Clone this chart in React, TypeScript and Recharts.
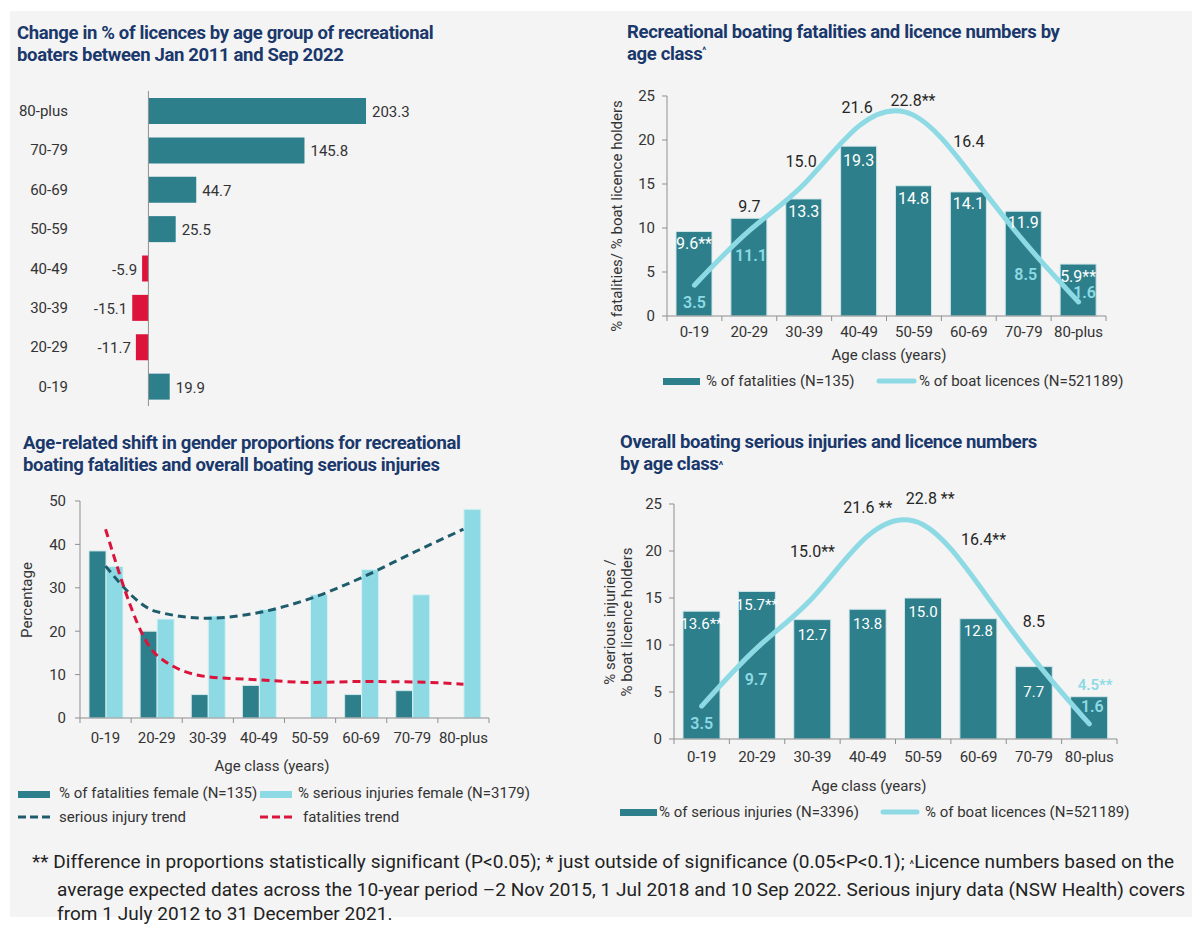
import React from "react";
import {
  Bar,
  BarChart,
  Cell,
  ComposedChart,
  LabelList,
  Line,
  ReferenceLine,
  XAxis,
  YAxis,
} from "recharts";

const AGE_CLASSES = ["0-19", "20-29", "30-39", "40-49", "50-59", "60-69", "70-79", "80-plus"];

// change in % of licences, Jan 2011 -> Sep 2022
const LICENCE_CHANGE = [19.9, -11.7, -15.1, -5.9, 25.5, 44.7, 145.8, 203.3];

// fatalities vs licences
const FATALITY_SHARE = [9.6, 11.1, 13.3, 19.3, 14.8, 14.1, 11.9, 5.9];
const FATALITY_SIG = ["**", "", "", "", "", "", "", "**"];
const LICENCE_SHARE = [3.5, 9.7, 15.0, 21.6, 22.8, 16.4, 8.5, 1.6];
const LICENCE_SIG_VS_FATAL = ["", "", "", "", "**", "", "", ""];

// female share by age
const FEMALE_FATALITY = [38.5, 20.0, 5.4, 7.5, null, 5.4, 6.3, null];
const FEMALE_INJURY = [34.9, 22.8, 23.5, 25.0, 28.4, 34.2, 28.4, 48.1];
const INJURY_TREND = [35.0, 24.5, 23.0, 24.3, 27.5, 32.3, 38.0, 43.5];
const FATALITY_TREND = [43.5, 14.5, 9.5, 8.8, 8.2, 8.4, 8.3, 7.8];

// serious injuries vs licences
const INJURY_SHARE = [13.6, 15.7, 12.7, 13.8, 15.0, 12.8, 7.7, 4.5];
const INJURY_SIG = ["**", "**", "", "", "", "", "", "**"];
const LICENCE_SIG_VS_INJURY = ["", "", "**", " **", " **", "**", "", ""];

const FONT = "Roboto, sans-serif";
const BG = "#f4f4f4";
const NAVY = "#1a386b";
const TEAL = "#2e7f8c";
const CYAN = "#8ddae4";
const RED = "#dc143c";
const DARK = "#1f5c6b";
const AXIS = "#8f8f8f";
const INK = "#333333";
const WHITE = "#ffffff";
const BLACK = "#262626";

// where each value label sits, relative to bar top centre / line point
type Tag = { dx: number; dy: number; color: string; bold?: boolean };

const FATAL_BAR_TAGS: Tag[] = [
  { dx: 0, dy: 12, color: WHITE },
  { dx: 2, dy: 37, color: CYAN, bold: true },
  { dx: 0, dy: 13, color: WHITE },
  { dx: 0, dy: 14, color: WHITE },
  { dx: 0, dy: 13, color: WHITE },
  { dx: 0, dy: 12, color: WHITE },
  { dx: 0, dy: 11, color: WHITE },
  { dx: 0, dy: 12, color: WHITE },
];
const FATAL_LINE_TAGS: Tag[] = [
  { dx: 0, dy: 17, color: CYAN, bold: true },
  { dx: 0, dy: -24, color: BLACK },
  { dx: -3, dy: -23, color: BLACK },
  { dx: -2, dy: -18, color: BLACK },
  { dx: -1, dy: -15, color: BLACK },
  { dx: 0, dy: -30, color: BLACK },
  { dx: 2, dy: 33, color: CYAN, bold: true },
  { dx: 6, dy: -9, color: CYAN, bold: true },
];
const INJURY_BAR_TAGS: Tag[] = [
  { dx: 0, dy: 13, color: WHITE },
  { dx: 0, dy: 14, color: WHITE },
  { dx: 0, dy: 15, color: WHITE },
  { dx: 0, dy: 15, color: WHITE },
  { dx: 0, dy: 14, color: WHITE },
  { dx: 0, dy: 12, color: WHITE },
  { dx: 0, dy: 25, color: WHITE },
  { dx: 6, dy: -12, color: CYAN, bold: true },
];
const INJURY_LINE_TAGS: Tag[] = [
  { dx: 0, dy: 17, color: CYAN, bold: true },
  { dx: -1, dy: 32, color: CYAN, bold: true },
  { dx: 0, dy: -47, color: BLACK },
  { dx: 0, dy: -28, color: BLACK },
  { dx: 7, dy: -26, color: BLACK },
  { dx: 5, dy: -45, color: BLACK },
  { dx: 0, dy: -38, color: BLACK },
  { dx: 3, dy: -17, color: CYAN, bold: true },
];

const changeData = AGE_CLASSES.map((age, i) => ({ age, change: LICENCE_CHANGE[i] }));
const fatalData = AGE_CLASSES.map((age, i) => ({
  age,
  fatal: FATALITY_SHARE[i],
  licence: LICENCE_SHARE[i],
}));
const genderData = AGE_CLASSES.map((age, i) => ({
  age,
  femaleFatal: FEMALE_FATALITY[i],
  femaleInjury: FEMALE_INJURY[i],
  injuryTrend: INJURY_TREND[i],
  fatalTrend: FATALITY_TREND[i],
}));
const injuryData = AGE_CLASSES.map((age, i) => ({
  age,
  injury: INJURY_SHARE[i],
  licence: LICENCE_SHARE[i],
}));

function box(p: any) {
  const vb = p.viewBox ?? {};
  return {
    x: vb.x ?? p.x ?? 0,
    y: vb.y ?? p.y ?? 0,
    w: vb.width ?? p.width ?? 0,
    h: vb.height ?? p.height ?? 0,
  };
}

function tagRenderer(values: number[], sig: string[], tags: Tag[], size: number) {
  return (p: any) => {
    const i = typeof p.index === "number" ? p.index : values.indexOf(Number(p.value));
    const t = tags[i];
    if (!t) return null;
    const b = box(p);
    return (
      <text
        x={b.x + b.w / 2 + t.dx}
        y={b.y + t.dy}
        textAnchor="middle"
        dominantBaseline="central"
        fill={t.color}
        fontSize={size}
        fontWeight={t.bold ? 600 : 400}
        fontFamily={FONT}
      >
        {values[i].toFixed(1) + sig[i]}
      </text>
    );
  };
}

function changeLabel(p: any) {
  const b = box(p);
  const v = Number(p.value);
  const left = Math.min(b.x, b.x + b.w);
  const right = Math.max(b.x, b.x + b.w);
  return (
    <text
      x={v >= 0 ? right + 6 : left - 5}
      y={b.y + b.h / 2 + 1}
      textAnchor={v >= 0 ? "start" : "end"}
      dominantBaseline="central"
      fill={INK}
      fontSize={15}
      fontFamily={FONT}
    >
      {v.toFixed(1)}
    </text>
  );
}

// category label centred in its band, tick marks on the band edges
function AgeTick(props: any) {
  const { x, y, payload, index, band, dy } = props;
  const half = band / 2;
  return (
    <g>
      <line x1={x - half} x2={x - half} y1={y} y2={y + 5} stroke={AXIS} />
      {index === AGE_CLASSES.length - 1 && (
        <line x1={x + half} x2={x + half} y1={y} y2={y + 5} stroke={AXIS} />
      )}
      <text
        x={x}
        y={y + dy}
        textAnchor="middle"
        dominantBaseline="central"
        fill={INK}
        fontSize={15}
        fontFamily={FONT}
      >
        {payload.value}
      </text>
    </g>
  );
}

const abs = (left: number, top: number): React.CSSProperties => ({
  position: "absolute",
  left,
  top,
});

function Title({ left, top, children }: { left: number; top: number; children: React.ReactNode }) {
  return (
    <div
      style={{
        ...abs(left, top),
        color: NAVY,
        fontWeight: 700,
        fontSize: 18.5,
        lineHeight: "22px",
        letterSpacing: -0.35,
        whiteSpace: "nowrap",
      }}
    >
      {children}
    </div>
  );
}

function VLabel({ cx, cy, children }: { cx: number; cy: number; children: React.ReactNode }) {
  return (
    <div
      style={{
        ...abs(cx, cy),
        transform: "translate(-50%, -50%) rotate(-90deg)",
        whiteSpace: "nowrap",
        textAlign: "center",
        fontSize: 15,
        lineHeight: "17px",
        color: INK,
      }}
    >
      {children}
    </div>
  );
}

function Text({ left, top, children, center }: { left: number; top: number; children: React.ReactNode; center?: boolean }) {
  return (
    <div
      style={{
        ...abs(left, top),
        transform: center ? "translate(-50%, -50%)" : "translateY(-50%)",
        whiteSpace: "nowrap",
        fontSize: 15,
        lineHeight: "18px",
        color: INK,
      }}
    >
      {children}
    </div>
  );
}

function Swatch({
  left,
  top,
  kind,
  color,
  width = 36,
}: {
  left: number;
  top: number;
  kind: "rect" | "line" | "dash";
  color: string;
  width?: number;
}) {
  return (
    <svg style={{ ...abs(left, top - 6) }} width={width + 4} height={12}>
      {kind === "rect" && <rect x={0} y={3} width={width} height={7} fill={color} />}
      {kind === "line" && (
        <line x1={3} x2={width - 1} y1={6} y2={6} stroke={color} strokeWidth={5} strokeLinecap="round" />
      )}
      {kind === "dash" && (
        <line x1={0} x2={width} y1={6} y2={6} stroke={color} strokeWidth={3} strokeDasharray="8 4" />
      )}
    </svg>
  );
}

const caret = (size: number, raise: number) => (
  <span style={{ fontSize: size, position: "relative", top: -raise, lineHeight: 0 }}>^</span>
);

export default function App() {
  const band2 = (1106 - 667) / AGE_CLASSES.length;
  const band3 = (489 - 80) / AGE_CLASSES.length;
  const band4 = (1117 - 674) / AGE_CLASSES.length;

  return (
    <div
      style={{
        position: "absolute",
        left: 0,
        top: 0,
        width: 1192,
        height: 927,
        background: "#ffffff",
        fontFamily: FONT,
        overflow: "hidden",
      }}
    >
      <div style={{ ...abs(10, 11), width: 1182, height: 906, background: BG }} />

      {/* top left: licence change */}
      <Title left={17} top={22}>
        Change in % of licences by age group of recreational
        <br />
        boaters between Jan 2011 and Sep 2022
      </Title>
      <div style={abs(0, 80)}>
        <BarChart
          width={440}
          height={340}
          data={changeData}
          layout="vertical"
          margin={{ top: 11, right: 24, bottom: 14, left: 67 }}
        >
          <XAxis type="number" domain={[-20, 250]} hide />
          <YAxis
            type="category"
            dataKey="age"
            reversed
            width={60}
            axisLine={false}
            tickLine={false}
            tickSize={6}
            tickMargin={53}
            tick={{ fontSize: 15, fill: INK, fontFamily: FONT }}
          />
          <ReferenceLine x={0} stroke={AXIS} strokeWidth={1} />
          <Bar dataKey="change" barSize={26} isAnimationActive={false}>
            {changeData.map((d) => (
              <Cell key={d.age} fill={d.change < 0 ? RED : TEAL} />
            ))}
            <LabelList dataKey="change" content={changeLabel} />
          </Bar>
        </BarChart>
      </div>

      {/* top right: fatalities vs licences */}
      <Title left={627} top={21}>
        Recreational boating fatalities and licence numbers by
        <br />
        age class{caret(9, 7)}
      </Title>
      <div style={abs(600, 80)}>
        <ComposedChart
          width={592}
          height={280}
          data={fatalData}
          margin={{ top: 16, right: 86, bottom: 14, left: 27 }}
        >
          <XAxis
            dataKey="age"
            height={30}
            axisLine={{ stroke: AXIS }}
            tickLine={false}
            tickSize={0}
            tickMargin={0}
            interval={0}
            tick={<AgeTick band={band2} dy={16} />}
          />
          <YAxis
            domain={[0, 25]}
            ticks={[0, 5, 10, 15, 20, 25]}
            width={40}
            axisLine={{ stroke: AXIS }}
            tickLine={{ stroke: AXIS }}
            tickSize={5}
            tickMargin={7}
            tick={{ fontSize: 15, fill: INK, fontFamily: FONT }}
          />
          <Bar dataKey="fatal" fill={TEAL} stroke="#cfe6e9" strokeWidth={1} barSize={36} isAnimationActive={false}>
            <LabelList dataKey="fatal" content={tagRenderer(FATALITY_SHARE, FATALITY_SIG, FATAL_BAR_TAGS, 16)} />
          </Bar>
          <Line
            dataKey="licence"
            type="natural"
            stroke={CYAN}
            strokeWidth={5}
            strokeLinecap="round"
            dot={false}
            isAnimationActive={false}
          >
            <LabelList
              dataKey="licence"
              content={tagRenderer(LICENCE_SHARE, LICENCE_SIG_VS_FATAL, FATAL_LINE_TAGS, 16)}
            />
          </Line>
        </ComposedChart>
      </div>
      <VLabel cx={617} cy={216}>% fatalities/ % boat licence holders</VLabel>
      <Text left={889} top={355} center>
        Age class (years)
      </Text>
      <Swatch left={663} top={381} kind="rect" color={TEAL} width={37} />
      <Text left={706} top={381}>% of fatalities (N=135)</Text>
      <Swatch left={876} top={381} kind="line" color={CYAN} width={39} />
      <Text left={919} top={381}>% of boat licences (N=521189)</Text>

      {/* bottom left: gender proportions */}
      <Title left={23} top={432}>
        Age-related shift in gender proportions for recreational
        <br />
        boating fatalities and overall boating serious injuries
      </Title>
      <div style={abs(0, 470)}>
        <ComposedChart
          width={600}
          height={290}
          data={genderData}
          margin={{ top: 31, right: 111, bottom: 12, left: 40 }}
          barGap={0}
        >
          <XAxis
            dataKey="age"
            height={30}
            axisLine={{ stroke: AXIS }}
            tickLine={false}
            tickSize={0}
            tickMargin={0}
            interval={0}
            tick={<AgeTick band={band3} dy={20} />}
          />
          <YAxis
            domain={[0, 50]}
            ticks={[0, 10, 20, 30, 40, 50]}
            width={40}
            axisLine={{ stroke: AXIS }}
            tickLine={{ stroke: AXIS }}
            tickSize={5}
            tickMargin={9}
            tick={{ fontSize: 15, fill: INK, fontFamily: FONT }}
          />
          <Bar dataKey="femaleFatal" fill={TEAL} stroke="#cfe6e9" strokeWidth={1} barSize={17} isAnimationActive={false} />
          <Bar dataKey="femaleInjury" fill={CYAN} stroke="#d8f1f4" strokeWidth={1} barSize={17} isAnimationActive={false} />
          <Line
            dataKey="injuryTrend"
            type="monotone"
            stroke={DARK}
            strokeWidth={3}
            strokeDasharray="8 5"
            dot={false}
            isAnimationActive={false}
          />
          <Line
            dataKey="fatalTrend"
            type="monotone"
            stroke={RED}
            strokeWidth={3}
            strokeDasharray="8 5"
            dot={false}
            isAnimationActive={false}
          />
        </ComposedChart>
      </div>
      <VLabel cx={27} cy={600}>Percentage</VLabel>
      <Text left={272} top={766} center>
        Age class (years)
      </Text>
      <Swatch left={18} top={794} kind="rect" color={TEAL} width={32} />
      <Text left={59} top={793}>% of fatalities female (N=135)</Text>
      <Swatch left={260} top={794} kind="rect" color={CYAN} width={32} />
      <Text left={298} top={793}>% serious injuries female (N=3179)</Text>
      <Swatch left={18} top={817} kind="dash" color={DARK} width={32} />
      <Text left={59} top={817}>serious injury trend</Text>
      <Swatch left={260} top={817} kind="dash" color={RED} width={32} />
      <Text left={303} top={817}>fatalities trend</Text>

      {/* bottom right: serious injuries vs licences */}
      <Title left={620} top={431}>
        Overall boating serious injuries and licence numbers
        <br />
        by age class{caret(11, 1)}
      </Title>
      <div style={abs(600, 490)}>
        <ComposedChart
          width={592}
          height={280}
          data={injuryData}
          margin={{ top: 14, right: 75, bottom: 1, left: 34 }}
        >
          <XAxis
            dataKey="age"
            height={30}
            axisLine={{ stroke: AXIS }}
            tickLine={false}
            tickSize={0}
            tickMargin={0}
            interval={0}
            tick={<AgeTick band={band4} dy={18} />}
          />
          <YAxis
            domain={[0, 25]}
            ticks={[0, 5, 10, 15, 20, 25]}
            width={40}
            axisLine={{ stroke: AXIS }}
            tickLine={{ stroke: AXIS }}
            tickSize={5}
            tickMargin={7}
            tick={{ fontSize: 15, fill: INK, fontFamily: FONT }}
          />
          <Bar dataKey="injury" fill={TEAL} stroke="#cfe6e9" strokeWidth={1} barSize={37} isAnimationActive={false}>
            <LabelList dataKey="injury" content={tagRenderer(INJURY_SHARE, INJURY_SIG, INJURY_BAR_TAGS, 15)} />
          </Bar>
          <Line
            dataKey="licence"
            type="natural"
            stroke={CYAN}
            strokeWidth={5}
            strokeLinecap="round"
            dot={false}
            isAnimationActive={false}
          >
            <LabelList
              dataKey="licence"
              content={tagRenderer(LICENCE_SHARE, LICENCE_SIG_VS_INJURY, INJURY_LINE_TAGS, 16)}
            />
          </Line>
        </ComposedChart>
      </div>
      <VLabel cx={619} cy={622}>
        % serious injuries /
        <br />% boat licence holders
      </VLabel>
      <Text left={869} top={786} center>
        Age class (years)
      </Text>
      <Swatch left={620} top={812} kind="rect" color={TEAL} width={37} />
      <Text left={659} top={812}>% of serious injuries (N=3396)</Text>
      <Swatch left={880} top={812} kind="line" color={CYAN} width={38} />
      <Text left={925} top={812}>% of boat licences (N=521189)</Text>

      {/* footnote */}
      <div style={{ ...abs(32, 850), fontSize: 19, lineHeight: "24.5px", letterSpacing: 0.05, color: "#222", whiteSpace: "nowrap" }}>
        <div>
          ** Difference in proportions statistically significant (P&lt;0.05); * just outside of significance
          (0.05&lt;P&lt;0.1); <span style={{ fontSize: 11 }}>^</span>Licence numbers based on the
        </div>
        <div style={{ paddingLeft: 25 }}>
          average expected dates across the 10-year period –2 Nov 2015, 1 Jul 2018 and 10 Sep 2022. Serious
          injury data (NSW Health) covers
        </div>
        <div style={{ paddingLeft: 25 }}>from 1 July 2012 to 31 December 2021.</div>
      </div>
    </div>
  );
}
